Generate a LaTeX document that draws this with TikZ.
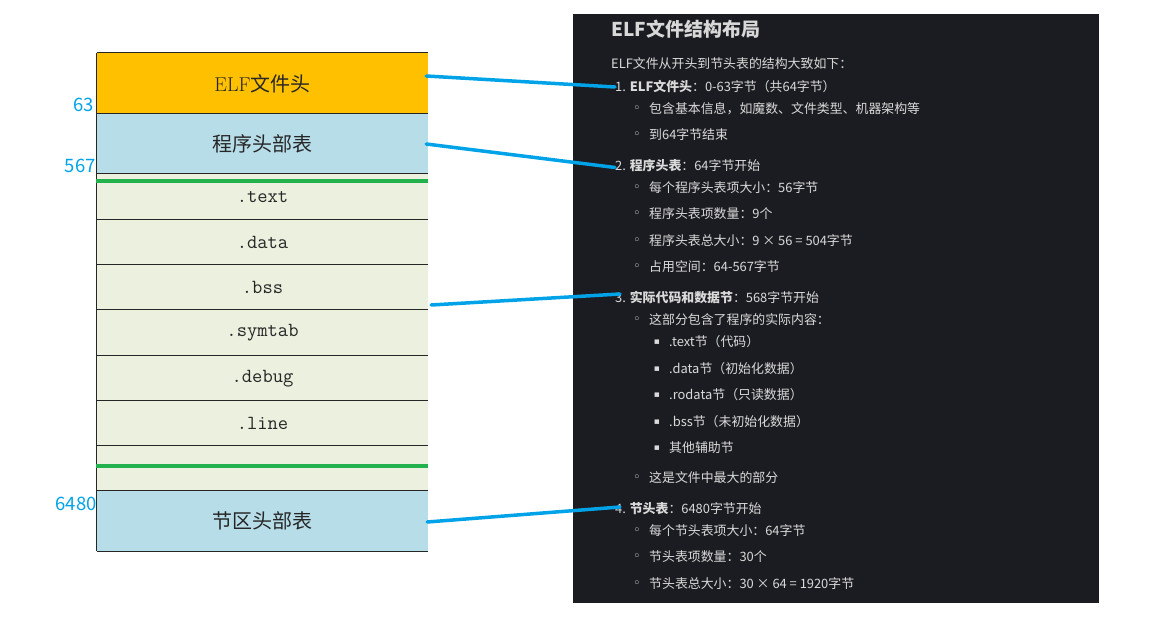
\documentclass[tikz,border=0pt]{standalone}
\usepackage{fontspec}
\newfontfamily\cjk{Noto Sans CJK SC}
\newfontfamily\symf{DejaVu Sans}
\usepackage{tikz}
\usepackage{xcolor}
\definecolor{hdrorange}{HTML}{FFC000}
\definecolor{tblblue}{HTML}{B7DDE8}
\definecolor{secgreen}{HTML}{EBF1DE}
\definecolor{markgreen}{HTML}{22B14C}
\definecolor{linkblue}{HTML}{00A2E8}
\definecolor{panelbg}{HTML}{1B1C21}
\definecolor{paneltxt}{HTML}{DADADA}

\begin{document}
\begin{tikzpicture}[x=1pt, y=-1pt,
  sect/.style={minimum width=331pt, inner sep=0pt, text=black!85, font=\fontsize{20}{24}\selectfont},
  offs/.style={anchor=east, inner sep=0pt, text=linkblue, font=\cjk\fontsize{18.5}{22}\selectfont},
  para/.style={anchor=west, inner sep=0pt, text=paneltxt, font=\cjk\fontsize{12.9}{15}\selectfont},
  bul/.style={inner sep=0pt, text=paneltxt, font=\symf\fontsize{13}{15}\selectfont},
  sqb/.style={inner sep=0pt, text=paneltxt, font=\symf\fontsize{9}{11}\selectfont},
  link/.style={line width=3.5pt, linkblue, line cap=round},
]
\useasboundingbox (0,0) rectangle (1173,618);

% file layout column
\node[sect, fill=hdrorange, minimum height=61pt] (hdr) at (262.5,83.5) {ELF{\cjk 文件头}};
\node[sect, fill=tblblue, minimum height=60pt] (phdr) at (262.5,144) {\cjk 程序头部表};
\node[sect, fill=secgreen, minimum height=46pt, font=\ttfamily\fontsize{20}{24}\selectfont] (txt) at (262.5,197) {.text};
\node[sect, fill=secgreen, minimum height=45pt, font=\ttfamily\fontsize{20}{24}\selectfont] (dat) at (262.5,242.5) {.data};
\node[sect, fill=secgreen, minimum height=45pt, font=\ttfamily\fontsize{20}{24}\selectfont] (bss) at (262.5,287.5) {.bss};
\node[sect, fill=secgreen, minimum height=46pt, font=\ttfamily\fontsize{20}{24}\selectfont] (sym) at (262.5,333) {.symtab};
\node[sect, fill=secgreen, minimum height=45pt, font=\ttfamily\fontsize{20}{24}\selectfont] (dbg) at (262.5,378.5) {.debug};
\node[sect, fill=secgreen, minimum height=45pt, font=\ttfamily\fontsize{20}{24}\selectfont] (lin) at (262.5,423.5) {.line};
\node[sect, fill=secgreen, minimum height=45pt] (pad) at (262.5,468.5) {};
\node[sect, fill=tblblue, minimum height=60pt] (shdr) at (262.5,521) {\cjk 节区头部表};

\foreach \r in {hdr,phdr,txt,dat,bss,sym,dbg,lin,pad,shdr}
  \draw[black!85, line width=0.8pt] (\r.north west) -- (\r.north east);
\draw[black!85, line width=0.8pt] (shdr.south west) -- (shdr.south east);
\draw[black!85, line width=0.8pt] (hdr.north west) -- (shdr.south west);

\draw[markgreen, line width=4pt] ([xshift=-1pt,yshift=-7pt]txt.north west) -- ([yshift=-7pt]txt.north east);
\draw[markgreen, line width=4pt] ([xshift=-1pt,yshift=-20pt]pad.north west) -- ([yshift=-20pt]pad.north east);

\node[offs] (o63) at (94,105) {63};
\node[offs] (o567) at (96,166) {567};
\node[offs] (o6480) at (97,504) {6480};

% notes panel
\fill[panelbg] (573,14) rectangle (1099,603);
\node[para, text=paneltxt!105, font=\cjk\bfseries\fontsize{19}{23}\selectfont] (title) at (611,29) {ELF文件结构布局};
\node[para] (intro) at (611,64) {ELF文件从开头到节头表的结构大致如下：};

\node[para] (it1) at (615,87) {1. \textbf{ELF文件头}：0-63字节（共64字节）};
\node[bul] (b1a) at (637,109) {◦};
\node[para] (t1a) at (649,109) {包含基本信息，如魔数、文件类型、机器架构等};
\node[bul] (b1b) at (637,135) {◦};
\node[para] (t1b) at (649,135) {到64字节结束};

\node[para] (it2) at (615,166) {2. \textbf{程序头表}：64字节开始};
\node[bul] (b2a) at (637,188) {◦};
\node[para] (t2a) at (649,188) {每个程序头表项大小：56字节};
\node[bul] (b2b) at (637,214) {◦};
\node[para] (t2b) at (649,214) {程序头表项数量：9个};
\node[bul] (b2c) at (637,241) {◦};
\node[para] (t2c) at (649,241) {程序头表总大小：9 × 56 = 504字节};
\node[bul] (b2d) at (637,267) {◦};
\node[para] (t2d) at (649,267) {占用空间：64-567字节};

\node[para] (it3) at (615,298) {3. \textbf{实际代码和数据节}：568字节开始};
\node[bul] (b3a) at (637,320) {◦};
\node[para] (t3a) at (649,320) {这部分包含了程序的实际内容：};
\node[sqb] (s3a) at (657,342) {▪};
\node[para] (u3a) at (669,342) {.text节（代码）};
\node[sqb] (s3b) at (657,369) {▪};
\node[para] (u3b) at (669,369) {.data节（初始化数据）};
\node[sqb] (s3c) at (657,395) {▪};
\node[para] (u3c) at (669,395) {.rodata节（只读数据）};
\node[sqb] (s3d) at (657,422) {▪};
\node[para] (u3d) at (669,422) {.bss节（未初始化数据）};
\node[sqb] (s3e) at (657,448) {▪};
\node[para] (u3e) at (669,448) {其他辅助节};
\node[bul] (b3b) at (637,478) {◦};
\node[para] (t3b) at (649,478) {这是文件中最大的部分};

\node[para] (it4) at (615,509) {4. \textbf{节头表}：6480字节开始};
\node[bul] (b4a) at (637,531) {◦};
\node[para] (t4a) at (649,531) {每个节头表项大小：64字节};
\node[bul] (b4b) at (637,557) {◦};
\node[para] (t4b) at (649,557) {节头表项数量：30个};
\node[bul] (b4c) at (637,584) {◦};
\node[para] (t4c) at (649,584) {节头表总大小：30 × 64 = 1920字节};

% links from layout to notes
\draw[link] ([xshift=-2pt,yshift=7.5pt]hdr.east) -- (it1.west);
\draw[link] ([xshift=-2pt]phdr.east) -- ([yshift=-1.5pt]it2.west);
\draw[link] ([xshift=3pt,yshift=-17.5pt]bss.east) -- ([xshift=5pt,yshift=4pt]it3.west);
\draw[link] ([xshift=-1pt,yshift=-1pt]shdr.east) -- ([xshift=5pt,yshift=2pt]it4.west);
\end{tikzpicture}
\end{document}
